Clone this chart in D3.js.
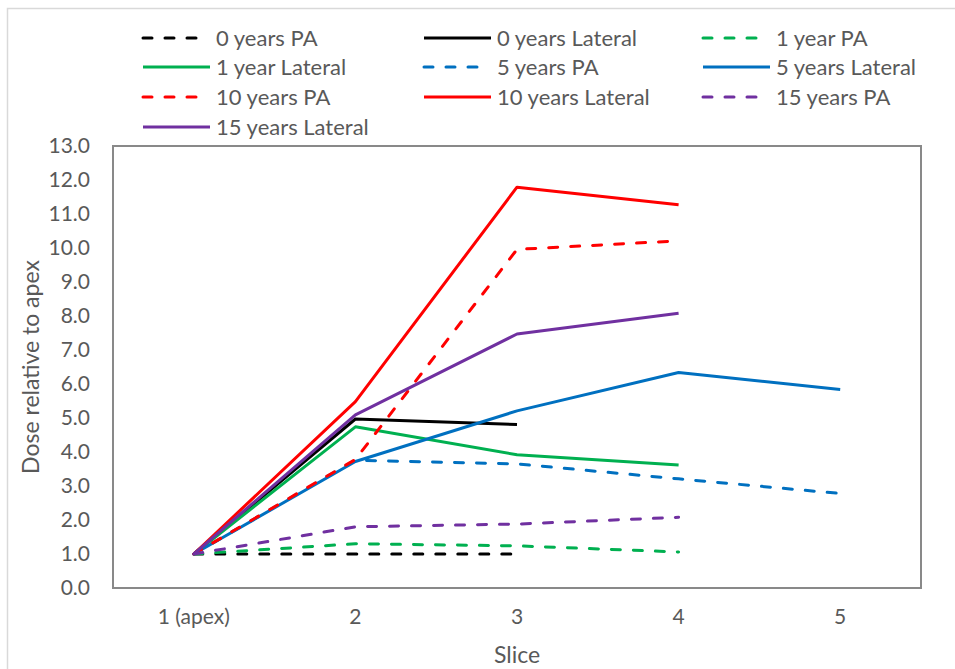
<!DOCTYPE html>
<html>
<head>
<meta charset="utf-8">
<script src="https://cdn.jsdelivr.net/npm/d3@7"></script>
<style>
  html, body { margin: 0; padding: 0; background: #fff; }
  svg { display: block; }
  text { font-family: Lato, "Open Sans", sans-serif; fill: #595959; }
</style>
</head>
<body>
<svg id="chart" width="955" height="669"></svg>
<script>
// Slice categories along the x axis
const slices = ["1 (apex)", "2", "3", "4", "5"];
const yTicks = [0, 1, 2, 3, 4, 5, 6, 7, 8, 9, 10, 11, 12, 13];

// Dose relative to apex, one array per series (null = no value for that slice)
const pa0 = [1.0, 1.0, 1.0, null, null];
const lat0 = [1.0, 4.97, 4.81, null, null];
const pa1 = [1.0, 1.30, 1.24, 1.06, null];
const lat1 = [1.0, 4.74, 3.92, 3.62, null];
const pa5 = [1.0, 3.76, 3.65, 3.21, 2.78];
const lat5 = [1.0, 3.72, 5.21, 6.34, 5.84];
const pa10 = [1.0, 3.78, 9.96, 10.21, null];
const lat10 = [1.0, 5.48, 11.79, 11.27, null];
const pa15 = [1.0, 1.80, 1.88, 2.08, null];
const lat15 = [1.0, 5.09, 7.47, 8.08, null];

const seriesNames = ["0 years PA", "0 years Lateral", "1 year PA", "1 year Lateral",
  "5 years PA", "5 years Lateral", "10 years PA", "10 years Lateral",
  "15 years PA", "15 years Lateral"];
const seriesValues = [pa0, lat0, pa1, lat1, pa5, lat5, pa10, lat10, pa15, lat15];
const seriesColors = ["#000000", "#000000", "#00b050", "#00b050", "#0070c0", "#0070c0",
  "#ff0000", "#ff0000", "#7030a0", "#7030a0"];
const seriesDashed = [true, false, true, false, true, false, true, false, true, false];

const series = seriesNames.map((name, i) => ({
  name, values: seriesValues[i], color: seriesColors[i], dashed: seriesDashed[i]
}));

const svg = d3.select("#chart");
const margin = { left: 113, right: 34, top: 146, bottom: 81 };
const W = 955, H = 669;
const plotW = W - margin.left - margin.right;
const plotH = H - margin.top - margin.bottom;

// Outer chart frame
svg.append("rect")
  .attr("x", 7.5).attr("y", 8.5).attr("width", 960).attr("height", 700)
  .attr("fill", "none").attr("stroke", "#d9d9d9").attr("stroke-width", 1.5);

const x = d3.scaleBand().domain(slices).range([0, plotW]);
const y = d3.scaleLinear().domain([0, 13]).range([plotH, 0]);

const g = svg.append("g").attr("transform", `translate(${margin.left},${margin.top})`);

// Plot area border
g.append("rect")
  .attr("x", 0).attr("y", 0).attr("width", plotW).attr("height", plotH)
  .attr("fill", "none").attr("stroke", "#898989").attr("stroke-width", 2);

// Y axis labels
const yAxis = d3.axisLeft(y).tickValues(yTicks).tickFormat(d3.format(".1f")).tickSize(0).tickPadding(23);
const yg = g.append("g").call(yAxis);
yg.select(".domain").remove();
yg.selectAll("text").style("font-size", "21px").attr("fill", "#595959")
  .style("font-family", "Lato, sans-serif");

// X axis labels
const xAxis = d3.axisBottom(x).tickSize(0).tickPadding(21);
const xg = g.append("g").attr("transform", `translate(0,${plotH})`).call(xAxis);
xg.select(".domain").remove();
xg.selectAll("text").style("font-size", "21px").attr("fill", "#595959")
  .style("font-family", "Lato, sans-serif");

// Axis titles
svg.append("text")
  .attr("transform", `translate(39,${margin.top + plotH / 2}) rotate(-90)`)
  .attr("text-anchor", "middle").style("font-size", "23px")
  .text("Dose relative to apex");
svg.append("text")
  .attr("x", margin.left + plotW / 2).attr("y", 663)
  .attr("text-anchor", "middle").style("font-size", "23px")
  .text("Slice");

// Series lines
const line = d3.line()
  .defined(d => d != null)
  .x((d, i) => x(slices[i]) + x.bandwidth() / 2)
  .y(d => y(d));

g.selectAll("path.series")
  .data(series)
  .join("path")
  .attr("class", "series")
  .attr("fill", "none")
  .attr("stroke", d => d.color)
  .attr("stroke-width", 3)
  .attr("stroke-linejoin", "round")
  .attr("stroke-linecap", d => d.dashed ? "round" : "butt")
  .attr("stroke-dasharray", d => d.dashed ? "9,13" : null)
  .attr("d", d => line(d.values));

// Legend: three columns
const colX = [216, 497, 776];
const rowY = [38, 67, 97, 127];
const leg = svg.append("g");
series.forEach((s, i) => {
  const cx = colX[i % 3], cy = rowY[Math.floor(i / 3)];
  leg.append("line")
    .attr("x1", cx - 73).attr("x2", s.dashed ? cx - 18 : cx - 6)
    .attr("y1", cy).attr("y2", cy)
    .attr("stroke", s.color).attr("stroke-width", 3)
    .attr("stroke-linecap", s.dashed ? "round" : "butt")
    .attr("stroke-dasharray", s.dashed ? "9,13" : null);
  leg.append("text")
    .attr("x", cx).attr("y", cy).attr("dy", "0.35em")
    .style("font-size", "22px")
    .text(s.name);
});
</script>
</body>
</html>
